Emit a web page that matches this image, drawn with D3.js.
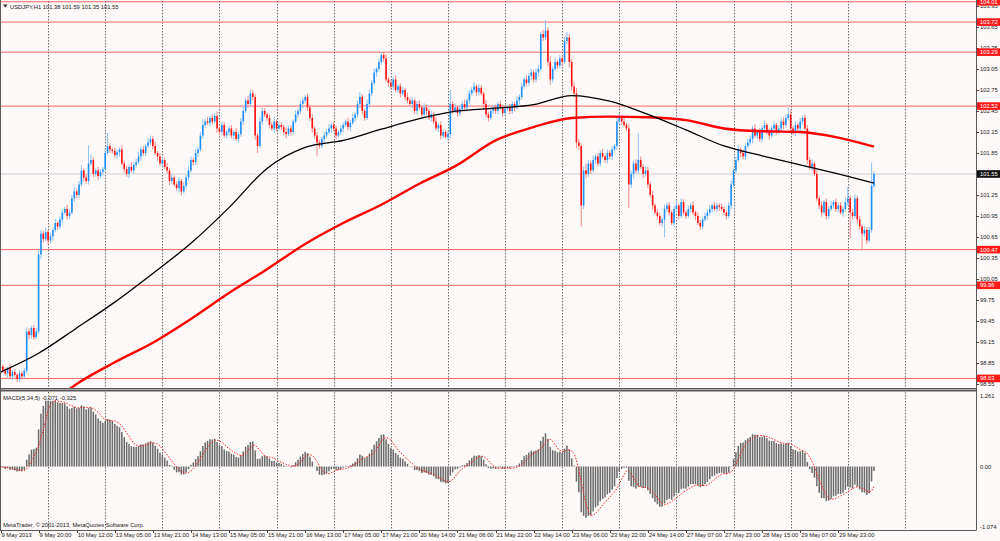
<!DOCTYPE html>
<html>
<head>
<meta charset="utf-8">
<script src="https://cdn.jsdelivr.net/npm/d3@7"></script>
<style>
  html, body { margin: 0; padding: 0; background: #fcf9f8; }
  svg { display: block; font-family: "Liberation Sans", Arial, sans-serif; }
</style>
</head>
<body>
<svg id="chart" width="1000" height="541"></svg>
<script>
// USDJPY H1 hourly candles, one close per bar (opens follow the previous close)
const firstOpen = 98.78;
const closes = [
  98.80, 98.74, 98.70, 98.78, 98.66, 98.72, 98.68, 98.62, 98.70, 98.66, 98.74, 99.30, 99.25, 99.35, 99.22, 99.30,
  100.40, 100.70, 100.62, 100.72, 100.60, 100.66, 100.75, 100.85, 100.80, 100.90, 101.00, 101.05, 100.95, 101.00, 101.20, 101.30,
  101.25, 101.40, 101.60, 101.50, 101.45, 101.70, 101.75, 101.55, 101.60, 101.52, 101.58, 101.62, 101.85, 101.95, 101.90, 101.88,
  101.82, 101.86, 101.90, 101.70, 101.62, 101.55, 101.65, 101.60, 101.68, 101.72, 101.80, 101.90, 101.85, 101.95, 102.00, 102.05,
  101.95, 101.85, 101.80, 101.70, 101.75, 101.65, 101.60, 101.45, 101.50, 101.40, 101.35, 101.45, 101.30, 101.38, 101.50, 101.60,
  101.75, 101.72, 101.85, 101.90, 102.10, 102.25, 102.30, 102.28, 102.35, 102.30, 102.38, 102.20, 102.15, 102.25, 102.10, 102.15,
  102.20, 102.10, 102.15, 102.05, 102.12, 102.30, 102.45, 102.60, 102.55, 102.70, 102.65, 102.10, 101.95, 102.30, 102.45, 102.40,
  102.35, 102.25, 102.20, 102.30, 102.20, 102.25, 102.22, 102.15, 102.12, 102.20, 102.15, 102.30, 102.40, 102.45, 102.55, 102.60,
  102.65, 102.50, 102.35, 102.20, 102.10, 102.00, 101.95, 102.05, 102.10, 102.15, 102.20, 102.25, 102.20, 102.10, 102.15, 102.20,
  102.25, 102.30, 102.22, 102.28, 102.35, 102.40, 102.55, 102.65, 102.45, 102.35, 102.55, 102.70, 102.85, 103.00, 103.05, 103.15,
  103.25, 103.20, 102.90, 102.85, 102.80, 102.90, 102.75, 102.80, 102.70, 102.75, 102.65, 102.60, 102.55, 102.60, 102.45, 102.55,
  102.50, 102.40, 102.50, 102.45, 102.35, 102.40, 102.30, 102.20, 102.25, 102.10, 102.15, 102.08, 102.12, 102.55, 102.45, 102.50,
  102.42, 102.48, 102.55, 102.50, 102.60, 102.70, 102.75, 102.80, 102.72, 102.78, 102.70, 102.55, 102.40, 102.35, 102.45, 102.50,
  102.45, 102.55, 102.50, 102.42, 102.48, 102.50, 102.45, 102.55, 102.50, 102.60, 102.65, 102.80, 102.90, 102.85, 102.95, 103.00,
  102.90, 103.00, 103.05, 103.55, 103.50, 103.60, 103.15, 102.90, 103.05, 103.15, 103.10, 103.20, 103.15, 103.45, 103.50, 103.15,
  102.80, 102.70, 102.00, 101.95, 101.10, 101.60, 101.55, 101.70, 101.60, 101.75, 101.80, 101.70, 101.85, 101.80, 101.75, 101.85,
  101.80, 101.90, 101.95, 102.30, 102.35, 102.30, 102.25, 102.20, 101.40, 101.55, 101.70, 101.60, 101.75, 101.65, 101.55, 101.60,
  101.40, 101.25, 101.10, 101.00, 100.95, 100.85, 100.90, 101.05, 101.10, 101.00, 100.85, 101.05, 101.10, 100.95, 101.15, 101.00,
  100.95, 101.05, 101.10, 101.00, 100.95, 100.85, 100.80, 100.90, 100.95, 101.00, 101.05, 101.10, 101.05, 101.10, 101.08, 101.05,
  101.00, 100.95, 101.10, 101.40, 101.60, 101.75, 101.90, 101.85, 101.80, 101.95, 102.00, 102.05, 102.20, 102.10, 102.15, 102.05,
  102.20, 102.25, 102.15, 102.10, 102.20, 102.25, 102.15, 102.20, 102.30, 102.25, 102.35, 102.40, 102.20, 102.15, 102.25, 102.20,
  102.30, 102.35, 102.20, 101.75, 101.65, 101.70, 101.55, 101.20, 101.10, 101.00, 101.15, 100.95, 101.05, 101.10, 101.15, 101.05,
  101.10, 101.00, 101.05, 101.15, 101.20, 101.00, 100.95, 101.20, 100.90, 100.80, 100.70, 100.75, 100.60, 100.75, 101.38, 101.55
];
// upper / lower shadows in pips beyond the candle body
const wickUp = [
  4,3,5,2,6,3,4,2,5,3,4,6,5,3,4,5, 8,5,4,6,3,5,4,6,3,5,4,3,6,4,5,6, 4,5,8,3,5,26,8,4,3,5,4,3,6,19,4,3,
  5,4,3,6,4,5,3,7,4,5,6,4,5,3,6,5, 4,6,3,5,4,3,6,4,5,3,4,6,3,5,4,6, 5,3,6,4,5,8,4,6,3,5,4,6,3,5,4,3,
  4,5,3,6,4,5,6,4,7,6,5,4,3,6,5,4, 3,5,4,6,3,5,4,3,6,4,5,3,6,4,5,4, 3,5,4,6,3,5,4,3,5,4,6,3,5,4,3,5,
  4,3,5,4,6,3,5,7,4,3,6,5,4,6,3,5, 4,4,6,3,5,4,6,3,5,4,3,6,4,5,3,4, 5,3,6,4,3,5,4,6,3,5,4,3,5,20,4,6,
  3,5,4,6,3,5,4,6,3,5,4,3,6,4,5,3, 4,3,5,4,6,3,5,4,3,6,4,5,3,6,4,5, 4,6,5,3,6,15,5,8,4,6,3,5,4,6,8,5,
  5,6,8,5,4,6,10,5,4,6,3,5,4,6,3,5, 4,5,3,8,6,4,5,3,6,5,4,6,38,5,4,6, 5,4,6,3,5,4,3,6,4,5,3,4,6,3,5,4,
  3,5,4,6,3,5,4,3,5,4,6,3,5,4,3,5, 4,3,5,6,4,5,6,3,5,4,6,5,4,6,3,5, 4,6,3,5,4,6,3,5,4,6,5,10,6,4,5,3,
  5,4,6,5,4,6,3,5,4,6,3,5,4,6,3,5, 4,5,3,6,16,4,5,6,4,5,3,6,4,5,33,4
];
const wickDown = [
  5,4,3,6,4,5,3,4,4,5,3,4,6,5,4,3, 4,6,5,3,5,4,6,3,5,4,6,3,5,4,3,5, 5,4,3,6,4,5,3,5,4,6,3,5,4,3,5,4,
  4,5,6,3,5,4,6,3,5,4,3,6,4,5,3,4, 5,3,6,4,5,3,4,6,5,3,4,6,5,3,4,5, 3,5,4,6,3,5,4,3,5,4,3,6,4,5,3,4,
  5,4,6,3,5,4,5,3,6,4,5,6,10,3,5,4, 4,5,3,6,4,3,5,4,6,3,5,4,3,5,4,6, 3,5,4,6,5,20,4,3,5,4,3,6,4,5,3,4,
  5,3,4,6,3,5,4,6,5,4,3,5,4,3,6,4, 4,5,3,6,4,5,3,4,6,3,5,4,3,6,4,5, 3,5,4,6,3,5,4,3,5,6,4,3,5,6,4,3,
  5,4,3,6,4,5,3,4,6,5,3,8,4,5,3,4, 4,5,3,6,4,3,5,4,6,3,5,4,3,5,4,6, 5,4,6,3,5,4,6,8,4,3,5,4,6,3,5,8,
  6,5,8,6,30,5,6,4,5,3,6,4,5,3,4,5, 4,5,3,6,4,5,3,4,34,5,6,4,5,3,6,4, 5,4,6,3,5,4,6,25,4,5,3,6,4,5,3,4,
  4,3,5,4,6,3,5,4,3,6,4,5,3,4,6,3, 4,5,3,6,4,5,3,6,4,5,3,4,6,3,5,4, 5,3,4,6,3,5,4,3,5,6,4,3,5,4,6,3,
  4,5,3,6,4,5,3,4,5,6,3,5,4,3,5,4, 5,3,6,4,5,37,4,3,6,5,24,4,5,3,4,3
];

// moving averages, read at every 16th bar
const maBars = [0, 16, 32, 48, 64, 80, 96, 112, 128, 144, 160, 176, 192, 208, 224, 240, 256, 272, 288, 304, 320, 336, 352, 367];
const blackMA = [98.72, 98.99, 99.35, 99.72, 100.13, 100.56, 101.07, 101.63, 101.93, 102.03, 102.19, 102.34,
                 102.45, 102.49, 102.54, 102.67, 102.59, 102.40, 102.18, 101.95, 101.81, 101.68, 101.55, 101.42];
const redMABars = maBars.slice(1);
const redMA = [98.12, 98.55, 98.86, 99.14, 99.48, 99.85, 100.19, 100.55, 100.85, 101.11, 101.41,
               101.68, 102.03, 102.22, 102.35, 102.37, 102.36, 102.32, 102.20, 102.16, 102.15, 102.07, 101.94];

// horizontal levels drawn on the chart
const levels = [104.01, 103.72, 103.29, 102.52, 100.47, 99.96, 98.63];
const levelLabels = ["104.01", "103.72", "103.29", "102.52", "100.47", "99.96", "98.63"];
const lastPrice = 101.55;
const lastLabel = "101.55";

// axis labels
const timeLabels = ["9 May 2013", "9 May 20:00", "10 May 12:00", "13 May 05:00", "13 May 21:00", "14 May 13:00",
  "15 May 05:00", "15 May 21:00", "16 May 13:00", "17 May 05:00", "17 May 21:00", "20 May 14:00", "21 May 06:00",
  "21 May 22:00", "22 May 14:00", "23 May 06:00", "23 May 22:00", "24 May 14:00", "27 May 07:00", "27 May 23:00",
  "28 May 15:00", "29 May 07:00", "29 May 23:00"];
const priceTicks = ["103.95", "103.65", "103.35", "103.05", "102.75", "102.45", "102.15", "101.85",
  "101.25", "100.95", "100.65", "100.35", "100.05", "99.75", "99.45", "99.15", "98.85", "98.55"];
const macdTicks = ["1.261", "0.00", "-1.074"];
const macdTickValues = [1.261, 0, -1.074];
const macdTitle = "MACD(5,34,5) -0.071 -0.325";

const W = 1000, plotRight = 976;
const mainTop = 1, mainBottom = 388, macdTop = 392, macdBottom = 530;

const svg = d3.select("#chart");

const x = d3.scaleLinear().domain([0, closes.length - 1]).range([0.5, 0.5 + 2.38 * (closes.length - 1)]);
const y = d3.scaleLinear().domain([98.493, 104.021]).range([mainBottom, mainTop]);
const ym = d3.scaleLinear().domain([-1.074, 1.261]).range([macdBottom, macdTop]);

// background
svg.append("rect").attr("width", W).attr("height", 541).attr("fill", "#fcf9f8");

const defs = svg.append("defs");
defs.append("clipPath").attr("id", "clipMain")
    .append("rect").attr("x", 0).attr("y", 0).attr("width", plotRight).attr("height", mainBottom);
defs.append("clipPath").attr("id", "clipMacd")
    .append("rect").attr("x", 0).attr("y", macdTop).attr("width", plotRight).attr("height", macdBottom - macdTop);
defs.append("clipPath").attr("id", "clipAll")
    .append("rect").attr("x", 0).attr("y", 0).attr("width", W).attr("height", 541);

// vertical dotted grid, every 24 bars
const gridBars = d3.range(20, 400, 24);
[[mainTop, mainBottom], [macdTop, macdBottom]].forEach(function(span) {
  svg.append("g")
     .selectAll("line")
     .data(gridBars)
     .enter()
     .append("line")
     .attr("x1", function(d) { return Math.round(x(d)) + 0.5; })
     .attr("x2", function(d) { return Math.round(x(d)) + 0.5; })
     .attr("y1", span[0])
     .attr("y2", span[1])
     .attr("stroke", "#6e6e6e")
     .attr("stroke-width", 1)
     .attr("stroke-dasharray", "1.5,1.5");
});

const main = svg.append("g").attr("clip-path", "url(#clipMain)");

// level lines and current price line
main.append("line")
    .attr("x1", 0).attr("x2", plotRight)
    .attr("y1", y(lastPrice)).attr("y2", y(lastPrice))
    .attr("stroke", "#cdcdcd").attr("stroke-width", 1.2);

main.append("g")
    .selectAll("line")
    .data(levels)
    .enter()
    .append("line")
    .attr("x1", 0).attr("x2", plotRight)
    .attr("y1", function(d) { return y(d); })
    .attr("y2", function(d) { return y(d); })
    .attr("stroke", "#ff4a4a")
    .attr("stroke-opacity", 0.85)
    .attr("stroke-width", 1);

// candles
const bars = closes.map(function(c, i) {
  const o = i === 0 ? firstOpen : closes[i - 1];
  return { i: i, o: o, c: c,
           h: Math.max(o, c) + wickUp[i] / 100,
           l: Math.min(o, c) - wickDown[i] / 100 };
});

const candles = main.append("g");
candles.selectAll("line")
       .data(bars)
       .enter()
       .append("line")
       .attr("x1", function(d) { return x(d.i); })
       .attr("x2", function(d) { return x(d.i); })
       .attr("y1", function(d) { return y(d.h); })
       .attr("y2", function(d) { return y(d.l); })
       .attr("stroke", function(d) { return d.c >= d.o ? "#8cc0f2" : "#f28a8a"; })
       .attr("stroke-width", 1);

candles.selectAll("rect")
       .data(bars)
       .enter()
       .append("rect")
       .attr("x", function(d) { return x(d.i) - 0.8; })
       .attr("width", 1.6)
       .attr("y", function(d) { return y(Math.max(d.o, d.c)); })
       .attr("height", function(d) { return Math.max(1, Math.abs(y(d.o) - y(d.c))); })
       .attr("fill", function(d) { return d.c >= d.o ? "#1e8ff5" : "#ff1010"; });

// moving averages
const maLine = d3.line()
                 .x(function(d) { return x(d[0]); })
                 .y(function(d) { return y(d[1]); })
                 .curve(d3.curveMonotoneX);

main.append("path")
    .attr("d", maLine(d3.zip(redMABars, redMA)))
    .attr("fill", "none")
    .attr("stroke", "#ff0000")
    .attr("stroke-width", 2.4);

main.append("path")
    .attr("d", maLine(d3.zip(maBars, blackMA)))
    .attr("fill", "none")
    .attr("stroke", "#000")
    .attr("stroke-width", 1.3);

// MACD(5,34,5): EMA5 - EMA34 of close, signal = SMA5 of MACD
function ema(arr, n) {
  const k = 2 / (n + 1);
  let e = arr[0];
  return arr.map(function(v, i) { e = i === 0 ? v : v * k + e * (1 - k); return e; });
}
const fast = ema(closes, 5), slow = ema(closes, 34);
const macd = closes.map(function(c, i) { return fast[i] - slow[i]; });
const signal = macd.map(function(m, i) { return d3.mean(macd.slice(Math.max(0, i - 4), i + 1)); });

const macdG = svg.append("g").attr("clip-path", "url(#clipMacd)");
macdG.selectAll("rect")
     .data(macd)
     .enter()
     .append("rect")
     .attr("x", function(d, i) { return x(i) - 0.75; })
     .attr("width", 1.5)
     .attr("y", function(d) { return Math.min(ym(d), ym(0)); })
     .attr("height", function(d) { return Math.abs(ym(d) - ym(0)); })
     .attr("fill", "#6a6a6a");

macdG.append("path")
     .attr("d", d3.line()
                  .x(function(d, i) { return x(i); })
                  .y(function(d) { return ym(d); })(signal))
     .attr("fill", "none")
     .attr("stroke", "#ff2020")
     .attr("stroke-width", 1)
     .attr("stroke-dasharray", "1.5,1.5");

// frames
const frame = svg.append("g").attr("stroke", "#5a5a5a").attr("fill", "none");
frame.append("line").attr("x1", 0.5).attr("x2", 0.5).attr("y1", 0).attr("y2", macdBottom);
frame.append("line").attr("x1", plotRight + 0.5).attr("x2", plotRight + 0.5).attr("y1", 0).attr("y2", macdBottom + 0.5);
frame.append("line").attr("x1", 0).attr("x2", plotRight).attr("y1", mainBottom + 0.5).attr("y2", mainBottom + 0.5);
frame.append("line").attr("x1", 0).attr("x2", plotRight).attr("y1", macdTop - 1.5).attr("y2", macdTop - 1.5)
     .attr("stroke-width", 2);
frame.append("line").attr("x1", 0).attr("x2", plotRight).attr("y1", macdBottom + 0.5).attr("y2", macdBottom + 0.5);

// right price axis
const axisG = svg.append("g").attr("font-size", "5.8px").attr("fill", "#222");
axisG.selectAll("line")
     .data(priceTicks)
     .enter()
     .append("line")
     .attr("x1", plotRight).attr("x2", plotRight + 3)
     .attr("y1", function(d) { return Math.round(y(+d)) + 0.5; })
     .attr("y2", function(d) { return Math.round(y(+d)) + 0.5; })
     .attr("stroke", "#444");
axisG.selectAll("text")
     .data(priceTicks)
     .enter()
     .append("text")
     .attr("x", plotRight + 4)
     .attr("y", function(d) { return y(+d) + 2.3; })
     .text(function(d) { return d; });

// level price tags
const tags = svg.append("g").attr("font-size", "5.8px").attr("clip-path", "url(#clipAll)");
tags.selectAll("rect")
    .data(levels)
    .enter()
    .append("rect")
    .attr("x", plotRight + 1)
    .attr("y", function(d) { return y(d) - 3.8; })
    .attr("width", W - plotRight - 1)
    .attr("height", 7.6)
    .attr("fill", "#ff1a1a");
tags.selectAll("text")
    .data(levels)
    .enter()
    .append("text")
    .attr("x", plotRight + 4)
    .attr("y", function(d) { return y(d) + 2; })
    .attr("fill", "#fff")
    .text(function(d, i) { return levelLabels[i]; });

tags.append("rect")
    .attr("x", plotRight + 1)
    .attr("y", y(lastPrice) - 3.8)
    .attr("width", W - plotRight - 1)
    .attr("height", 7.6)
    .attr("fill", "#111");
tags.append("text")
    .attr("x", plotRight + 4)
    .attr("y", y(lastPrice) + 2)
    .attr("fill", "#fff")
    .text(lastLabel);

// MACD axis labels
svg.append("g")
   .attr("font-size", "5.8px").attr("fill", "#222")
   .selectAll("text")
   .data(macdTicks)
   .enter()
   .append("text")
   .attr("x", plotRight + 4)
   .attr("y", function(d, i) { return Math.min(Math.max(ym(macdTickValues[i]), macdTop + 4), macdBottom - 3) + 2; })
   .text(function(d) { return d; });

// time axis
const timeG = svg.append("g").attr("font-size", "5.8px").attr("fill", "#222");
timeG.selectAll("line")
     .data(timeLabels)
     .enter()
     .append("line")
     .attr("x1", function(d, i) { return Math.round(x(i * 16)) + 0.5; })
     .attr("x2", function(d, i) { return Math.round(x(i * 16)) + 0.5; })
     .attr("y1", macdBottom)
     .attr("y2", macdBottom + 3)
     .attr("stroke", "#444");
timeG.selectAll("text")
     .data(timeLabels)
     .enter()
     .append("text")
     .attr("x", function(d, i) { return x(i * 16) + 1; })
     .attr("y", 537)
     .text(function(d) { return d; });

// captions
svg.append("path").attr("d", "M3,4.5 L7.5,4.5 L5.25,7.5 Z").attr("fill", "#222");
svg.append("text").attr("x", 10).attr("y", 8.5).attr("font-size", "5.8px").attr("fill", "#222")
   .text("USDJPY,H1  101.38 101.59 101.35 101.55");
svg.append("text").attr("x", 3).attr("y", 400).attr("font-size", "5.8px").attr("fill", "#222")
   .text(macdTitle);
svg.append("text").attr("x", 3).attr("y", 527).attr("font-size", "5.8px").attr("fill", "#222")
   .text("MetaTrader, \u00a9 2001-2013, MetaQuotes Software Corp.");
</script>
</body>
</html>
